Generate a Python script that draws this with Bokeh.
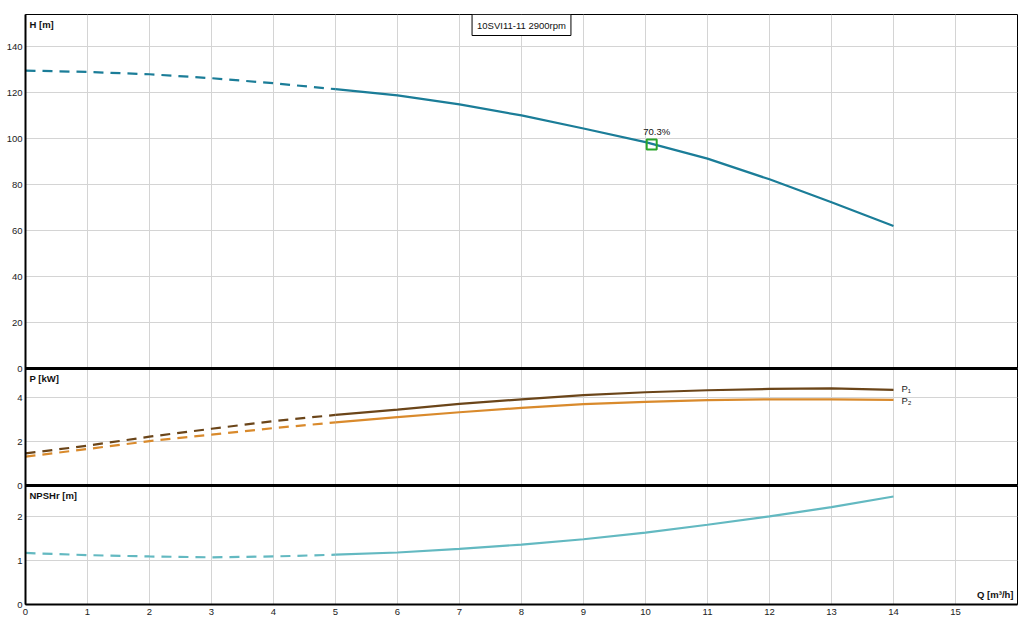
from bokeh.plotting import figure
from bokeh.models import Range1d, FixedTicker, Span, Label
from bokeh.embed import file_html
from bokeh.resources import INLINE
from bokeh.core.properties import value

# ---------------- data ----------------
title_text = "10SVI11-11 2900rpm"
q_dash = [0, 1, 2, 3, 4, 5]
q_solid = [5, 6, 7, 8, 9, 10, 11, 12, 13, 14]
h_dash = [129.6, 129.0, 128.0, 126.3, 124.1, 121.5]
h_solid = [121.5, 118.8, 114.9, 110.1, 104.4, 98.5, 91.3, 82.3, 72.3, 62.0]
p1_dash = [1.46, 1.81, 2.22, 2.58, 2.93, 3.21]
p1_solid = [3.21, 3.45, 3.71, 3.92, 4.11, 4.24, 4.33, 4.39, 4.42, 4.35]
p2_dash = [1.31, 1.66, 2.02, 2.31, 2.61, 2.87]
p2_solid = [2.87, 3.11, 3.33, 3.53, 3.70, 3.80, 3.88, 3.92, 3.92, 3.89]
npsh_dash = [1.17, 1.12, 1.09, 1.07, 1.09, 1.13]
npsh_solid = [1.13, 1.18, 1.26, 1.36, 1.48, 1.63, 1.81, 2.00, 2.21, 2.45]
duty_q = [10.1]
duty_h = [97.5]
duty_label = ["70.3%"]
x_ticks = list(range(0, 16))
h_ticks = [0, 20, 40, 60, 80, 100, 120, 140]
p_ticks = [0, 2, 4]
npsh_ticks = [0, 1, 2]
h_title = "H [m]"
p_title = "P [kW]"
npsh_title = "NPSHr [m]"
q_title = "Q [m³/h]"
p_names = ["P₁", "P₂"]

# ---------------- layout of stacked panels (frame pixels) ----------------
FRAME_H = 590
FRAME_W = 992
panels = {
    "H": ((236, 590), (0.0, 154.0)),
    "P": ((119, 236), (0.0, 5.32)),
    "N": ((0, 119), (0.0, 2.70)),
}

def panel_range(name):
    (lo, hi), (vmin, vmax) = panels[name]
    scale = (hi - lo) / (vmax - vmin)
    return Range1d(vmin - lo / scale, vmin + (FRAME_H - lo) / scale)

def vpos(name, v):
    (lo, hi), (vmin, vmax) = panels[name]
    scale = (hi - lo) / (vmax - vmin)
    return int(round(lo + (v - vmin) * scale))

FONT = "Liberation Sans"
H_COL = "#1b7d98"
P1_COL = "#6b4519"
P2_COL = "#d98a2c"
N_COL = "#63b9c1"
GREEN = "#2aa52a"
DASH = "10 7"

p = figure(frame_width=FRAME_W, frame_height=FRAME_H,
           x_range=Range1d(0, 16), y_range=Range1d(0, FRAME_H),
           output_backend="svg", toolbar_location=None,
           min_border_top=14, min_border_right=8, min_border_left=25,
           min_border_bottom=4, background_fill_color="white",
           border_fill_color="white")
p.extra_y_ranges = {"H": panel_range("H"), "P": panel_range("P"), "N": panel_range("N")}

p.outline_line_color = "black"
p.outline_line_width = 1

tick_pos = []
overrides = {}
for name, ticks in (("H", h_ticks), ("P", p_ticks), ("N", npsh_ticks)):
    for t in ticks:
        v = vpos(name, t)
        tick_pos.append(v)
        overrides[v] = str(t)
        overrides[str(v)] = str(t)
tick_pos = sorted(set(tick_pos))

yax = p.yaxis[0]
yax.ticker = FixedTicker(ticks=tick_pos)
yax.major_label_overrides = overrides
yax.major_tick_out = 0
yax.major_tick_in = 0
yax.minor_tick_out = 0
yax.minor_tick_in = 0
yax.major_label_standoff = 3
yax.axis_line_color = "black"
yax.axis_line_width = 2
yax.major_label_text_font = FONT
yax.major_label_text_font_size = "9.5px"
yax.major_label_text_color = "#222222"

xax = p.xaxis[0]
xax.ticker = FixedTicker(ticks=x_ticks)
xax.major_tick_out = 0
xax.major_tick_in = 0
xax.minor_tick_out = 0
xax.minor_tick_in = 0
xax.major_label_standoff = 4
xax.axis_line_color = "black"
xax.axis_line_width = 2
xax.major_label_text_font = FONT
xax.major_label_text_font_size = "9.5px"
xax.major_label_text_color = "#222222"

p.xgrid.grid_line_color = "#d4d4d4"
p.xgrid.grid_line_width = 1
p.ygrid.grid_line_color = "#d4d4d4"
p.ygrid.grid_line_width = 1

for name in ("H", "P"):
    p.add_layout(Span(location=vpos(name, 0), dimension="width",
                      line_color="black", line_width=3))

p.line(q_dash, h_dash, y_range_name="H", line_color=H_COL, line_width=2.2, line_dash=DASH)
p.line(q_solid, h_solid, y_range_name="H", line_color=H_COL, line_width=2.2)
p.line(q_dash, p1_dash, y_range_name="P", line_color=P1_COL, line_width=2.2, line_dash=DASH)
p.line(q_solid, p1_solid, y_range_name="P", line_color=P1_COL, line_width=2.2)
p.line(q_dash, p2_dash, y_range_name="P", line_color=P2_COL, line_width=2.2, line_dash=DASH)
p.line(q_solid, p2_solid, y_range_name="P", line_color=P2_COL, line_width=2.2)
p.line(q_dash, npsh_dash, y_range_name="N", line_color=N_COL, line_width=2.2, line_dash=DASH)
p.line(q_solid, npsh_solid, y_range_name="N", line_color=N_COL, line_width=2.2)

p.scatter(duty_q, duty_h, y_range_name="H", marker="square", size=10,
          fill_color=None, line_color=GREEN, line_width=2)
p.text(duty_q, duty_h, text=duty_label, y_range_name="H", x_offset=5, y_offset=-7,
       text_align="center", text_baseline="bottom", text_font=value(FONT),
       text_font_size="9.5px", text_color="#111111")

p.text([q_solid[-1]], [p1_solid[-1]], text=[p_names[0]], y_range_name="P", x_offset=8,
       y_offset=-1, text_align="left", text_baseline="middle", text_font=value(FONT),
       text_font_size="9.5px", text_color="#222222")
p.text([q_solid[-1]], [p2_solid[-1]], text=[p_names[1]], y_range_name="P", x_offset=8,
       y_offset=1, text_align="left", text_baseline="middle", text_font=value(FONT),
       text_font_size="9.5px", text_color="#222222")

def title_label(txt, name):
    (lo, hi), _ = panels[name]
    return Label(x=0, y=hi, text=txt, x_offset=4, y_offset=-4,
                 text_align="left", text_baseline="top", text_font=FONT,
                 text_font_size="9.5px", text_font_style="bold", text_color="#111111")

p.add_layout(title_label(h_title, "H"))
p.add_layout(title_label(p_title, "P"))
p.add_layout(title_label(npsh_title, "N"))
p.add_layout(Label(x=16, y=0, text=q_title, x_offset=-4, y_offset=5,
                   text_align="right", text_baseline="bottom", text_font=FONT,
                   text_font_size="9.5px", text_font_style="bold", text_color="#111111"))

p.add_layout(Label(x=8.0, y=FRAME_H, text=title_text, y_offset=0,
                   text_align="center", text_baseline="top", text_font=FONT,
                   text_font_size="9.5px", text_color="#111111",
                   border_line_color="black", border_line_width=1,
                   background_fill_color="white", padding=5))

open("out.html", "w").write(file_html(p, INLINE))
